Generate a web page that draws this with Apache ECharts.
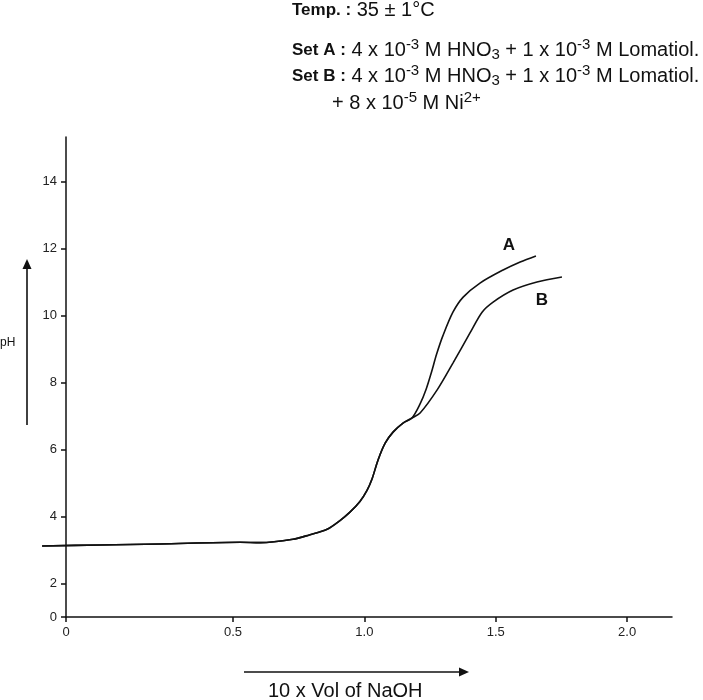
<!DOCTYPE html>
<html>
<head>
<meta charset="utf-8">
<script src="https://cdn.jsdelivr.net/npm/echarts@6/dist/echarts.min.js"></script>
<style>html,body{margin:0;padding:0;background:#fff}#c{width:703px;height:700px}</style>
</head>
<body>
<div id="c"></div>
<script>
// x tick positions (axis units) and their printed labels (the 0–0.5 span is drawn stretched)
const xTickPos = [-0.136, 0.5, 1.0, 1.5, 2.0];
const xTickLabels = ['0', '0.5', '1.0', '1.5', '2.0'];
// y tick positions (axis units) and printed labels (0–2 span is drawn compressed)
const yTickPos = [1, 2, 4, 6, 8, 10, 12, 14];
const yTickLabels = ['0', '2', '4', '6', '8', '10', '12', '14'];

// common part of both titration curves
const commonX = [-0.227, -0.006, 0.222, 0.527, 0.603, 0.728, 0.790, 0.858, 0.907, 0.945, 0.983, 1.010, 1.029, 1.052, 1.079, 1.109, 1.147, 1.181];
const commonPH = [3.12, 3.15, 3.18, 3.23, 3.22, 3.32, 3.45, 3.62, 3.88, 4.13, 4.45, 4.78, 5.12, 5.69, 6.19, 6.52, 6.79, 6.94];
// Set A after split
const aX = [1.212, 1.235, 1.255, 1.275, 1.299, 1.337, 1.376, 1.440, 1.528, 1.593, 1.653];
const aPH = [7.36, 7.80, 8.30, 8.85, 9.40, 10.10, 10.55, 10.97, 11.36, 11.60, 11.78];
// Set B after split
const bX = [1.212, 1.277, 1.337, 1.402, 1.448, 1.490, 1.566, 1.657, 1.752];
const bPH = [7.09, 7.78, 8.58, 9.48, 10.10, 10.40, 10.76, 11.00, 11.15];

const FONT = '"Liberation Sans", Arial, Helvetica, sans-serif';
const INK = '#111';

function pairs(xs, ys) { return xs.map((x, i) => [x, ys[i]]); }
const serA = pairs(commonX.concat(aX), commonPH.concat(aPH));
const serB = pairs(commonX.concat(bX), commonPH.concat(bPH));

const X_MIN = -0.136, X_MAX = 2.171, Y_MIN = 1, Y_MAX = 15.33;
const GRID_L = 66, GRID_R = 31, GRID_T = 137, GRID_B = 83;
// the data grid extends left of the drawn y axis so the curve can start before it
const pxPerUnit = (703 - GRID_L - GRID_R) / (X_MAX - X_MIN);
const DATA_L = 42;
const X_MIN_DATA = X_MIN - (GRID_L - DATA_L) / pxPerUnit;

const rich = {
  b: { fontFamily: FONT, fontWeight: 'bold', fontSize: 17, fill: INK, lineHeight: 25 },
  n: { fontFamily: FONT, fontSize: 20, fill: INK, lineHeight: 25 },
  sup: { fontFamily: FONT, fontSize: 15, fill: INK, verticalAlign: 'top', lineHeight: 25 },
  sub: { fontFamily: FONT, fontSize: 15, fill: INK, verticalAlign: 'bottom', lineHeight: 25 }
};

const chart = echarts.init(document.getElementById('c'));
const lineStyle = { color: INK, width: 1.6 };
chart.setOption({
  animation: false,
  backgroundColor: '#fff',
  grid: [
    { left: GRID_L, right: GRID_R, top: GRID_T, bottom: GRID_B },
    { left: DATA_L, right: GRID_R, top: GRID_T, bottom: GRID_B }
  ],
  xAxis: [{
    type: 'value', gridIndex: 0, min: X_MIN, max: X_MAX,
    axisLine: { onZero: false, lineStyle: { color: INK, width: 1.5 } },
    axisTick: { customValues: xTickPos, length: 5, lineStyle: { color: INK, width: 1.5 } },
    axisLabel: {
      customValues: xTickPos, margin: 9, color: '#222', fontSize: 13, fontFamily: FONT,
      formatter: v => { const i = xTickPos.findIndex(p => Math.abs(p - v) < 1e-6); return i >= 0 ? xTickLabels[i] : ''; }
    },
    splitLine: { show: false }
  }, {
    type: 'value', gridIndex: 1, min: X_MIN_DATA, max: X_MAX, show: false, splitLine: { show: false }
  }],
  yAxis: [{
    type: 'value', gridIndex: 0, min: Y_MIN, max: Y_MAX,
    axisLine: { show: true, onZero: false, lineStyle: { color: INK, width: 1.5 } },
    axisTick: { show: true, customValues: yTickPos, length: 5, lineStyle: { color: INK, width: 1.5 } },
    axisLabel: {
      customValues: yTickPos, margin: 9, color: '#222', fontSize: 13, fontFamily: FONT,
      formatter: v => { const i = yTickPos.findIndex(p => Math.abs(p - v) < 1e-6); return i >= 0 ? yTickLabels[i] : ''; }
    },
    splitLine: { show: false }
  }, {
    type: 'value', gridIndex: 1, min: Y_MIN, max: Y_MAX, show: false, splitLine: { show: false }
  }],
  series: [
    { name: 'A', type: 'line', xAxisIndex: 1, yAxisIndex: 1, data: serA, smooth: 0.3, symbol: 'none', lineStyle: lineStyle, z: 3 },
    { name: 'B', type: 'line', xAxisIndex: 1, yAxisIndex: 1, data: serB, smooth: 0.3, symbol: 'none', lineStyle: lineStyle, z: 3 }
  ],
  graphic: [
    { type: 'text', x: 292, y: 10, style: { text: '{b|Temp. :}{n| 35 ± 1°C}', rich: rich, verticalAlign: 'middle' } },
    { type: 'text', x: 292, y: 50, style: { text: '{b|Set A :}{n| 4 x 10}{sup|-3}{n| M HNO}{sub|3}{n| + 1 x 10}{sup|-3}{n| M Lomatiol.}', rich: rich, verticalAlign: 'middle' } },
    { type: 'text', x: 292, y: 76, style: { text: '{b|Set B :}{n| 4 x 10}{sup|-3}{n| M HNO}{sub|3}{n| + 1 x 10}{sup|-3}{n| M Lomatiol.}', rich: rich, verticalAlign: 'middle' } },
    { type: 'text', x: 332, y: 103, style: { text: '{n|+ 8 x 10}{sup|-5}{n| M Ni}{sup|2+}', rich: rich, verticalAlign: 'middle' } },
    { type: 'text', x: 509, y: 245, style: { text: 'A', font: 'bold 17px ' + FONT, fill: INK, align: 'center', verticalAlign: 'middle' } },
    { type: 'text', x: 542, y: 300, style: { text: 'B', font: 'bold 17px ' + FONT, fill: INK, align: 'center', verticalAlign: 'middle' } },
    { type: 'text', x: 0, y: 343, style: { text: 'pH', font: '12px ' + FONT, fill: INK, verticalAlign: 'middle' } },
    { type: 'line', shape: { x1: 27, y1: 425, x2: 27, y2: 267 }, style: { stroke: INK, lineWidth: 1.6 } },
    { type: 'polygon', shape: { points: [[27, 259], [22.5, 269], [31.5, 269]] }, style: { fill: INK } },
    { type: 'line', shape: { x1: 244, y1: 672, x2: 460, y2: 672 }, style: { stroke: INK, lineWidth: 1.6 } },
    { type: 'polygon', shape: { points: [[469, 672], [459, 667.5], [459, 676.5]] }, style: { fill: INK } },
    { type: 'text', x: 268, y: 691, style: { text: '10 x Vol of NaOH', font: '20px ' + FONT, fill: INK, verticalAlign: 'middle' } }
  ]
});
</script>
</body>
</html>
